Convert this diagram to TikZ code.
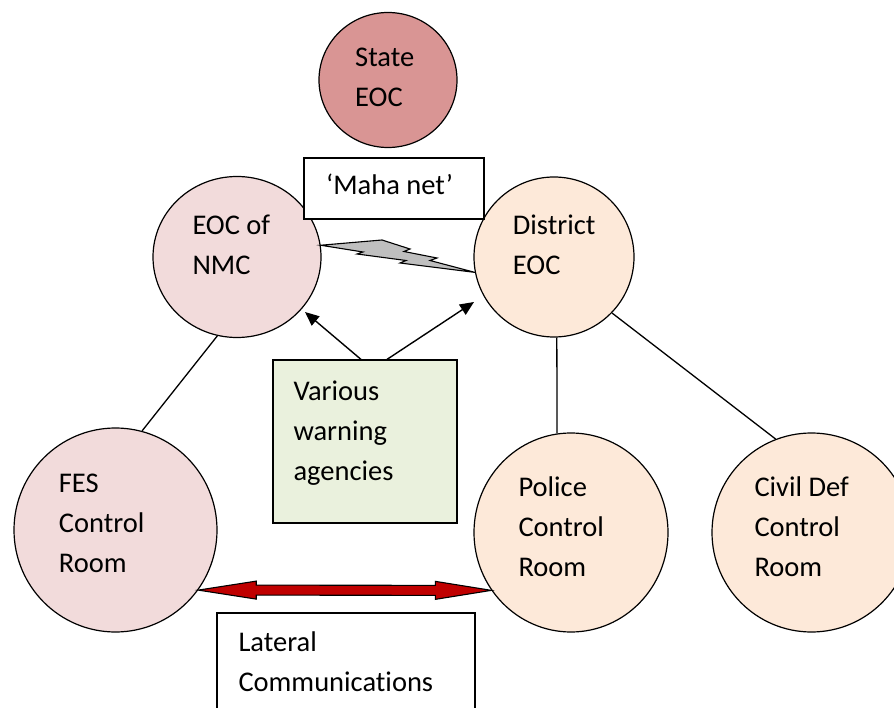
\documentclass[tikz,border=0pt]{standalone}
\usepackage{fontspec}
\setmainfont{Carlito}[Ligatures=NoCommon]
\usetikzlibrary{shapes.geometric,arrows.meta,calc}
\definecolor{stateFill}{HTML}{D99594}
\definecolor{pinkFill}{HTML}{F2DBDB}
\definecolor{peachFill}{HTML}{FDE9D9}
\definecolor{greenFill}{HTML}{EAF1DD}
\definecolor{boltGray}{HTML}{BFBFBF}
\definecolor{linkRed}{HTML}{C00000}
\begin{document}
\begin{tikzpicture}[x=1pt,y=-1pt,
  hub/.style={ellipse, draw, line width=1.2pt, inner sep=0pt},
  box/.style={rectangle, draw, line width=1.2pt, fill=white, inner sep=0pt},
  txt/.style={anchor=base west, align=flush left, inner sep=0pt, text width=220pt,
              font=\fontsize{28.5}{40}\selectfont},
  wire/.style={line width=1.3pt},
  pointer/.style={line width=1.4pt, -{Triangle[length=14pt,width=12pt]}}]
\useasboundingbox (0,0) rectangle (894,708);
\clip (0,0) rectangle (894,708);

% centres of the network
\node[hub, fill=stateFill, minimum width=138pt, minimum height=135pt] (state) at (388,80) {};
\node[hub, fill=pinkFill, minimum width=168pt, minimum height=161pt] (nmc) at (237,257) {};
\node[hub, fill=peachFill, minimum width=160pt, minimum height=160pt] (district) at (554,257) {};
\node[hub, fill=pinkFill, minimum width=203pt, minimum height=204pt] (fes) at (115.5,530) {};
\node[hub, fill=peachFill, minimum width=194pt, minimum height=199pt] (police) at (571,532.5) {};
\node[hub, fill=peachFill, minimum width=199pt, minimum height=199pt] (civil) at (811.5,532.5) {};

% boxes
\node[box, minimum width=180pt, minimum height=61pt] (maha) at (394,188.5) {};
\node[box, fill=greenFill, minimum width=184pt, minimum height=163pt] (various) at (365,441.5) {};
\node[box, minimum width=258pt, minimum height=116pt] (lateral) at (346,671) {};

% plain links
\draw[wire] (nmc.256) -- (fes.75);
\draw[wire] (district.272) -- (police.98);
\draw[wire] (district.316) -- (civil.111);

% warning agencies feed both EOCs
\coordinate (tipN) at (305,312);
\coordinate (tipD) at (474,302);
\draw[pointer] ($(various.north)+(-4,0)$) -- (tipN);
\draw[pointer] ($(various.north)+(22,0)$) -- (tipD);

% radio link (lightning bolt)
\draw[fill=boltGray, line width=1.1pt, line join=miter]
  (nmc.8) -- (382,240) -- (410,249) -- (404,251.5) -- (437,258) -- (430,260.5)
  -- (district.191) -- (400,263) -- (406,260.5) -- (357,254) -- (363,252) -- cycle;

% lateral communications double arrow
\coordinate (la) at (fes.324);
\coordinate (ra) at (police.216);
\draw[fill=linkRed, line width=1.1pt, line join=miter]
  (la) -- ($(la)+(58,-9)$) -- ($(la)+(58,-5)$) -- ($(ra)+(-56,-5)$) -- ($(ra)+(-56,-9)$)
  -- (ra) -- ($(ra)+(-56,9)$) -- ($(ra)+(-56,5)$) -- ($(la)+(58,5)$) -- ($(la)+(58,9)$) -- cycle;

% labels
\node[txt] (tState) at (355,66.5) {State\\EOC};
\node[txt] (tMaha) at (326,195) {‘Maha net’};
\node[txt] (tNmc) at (192.3,235) {EOC of\\NMC};
\node[txt] (tDistrict) at (512.7,235) {District\\EOC};
\node[txt] (tVarious) at (293.3,400) {Various\\warning\\agencies};
\node[txt] (tFes) at (58.7,492.7) {FES\\Control\\Room};
\node[txt] (tPolice) at (518.3,496) {Police\\Control\\Room};
\node[txt] (tCivil) at (754.3,496) {Civil Def\\Control\\Room};
\node[txt] (tLateral) at (238.3,651) {Lateral\\Communications};
\end{tikzpicture}
\end{document}
